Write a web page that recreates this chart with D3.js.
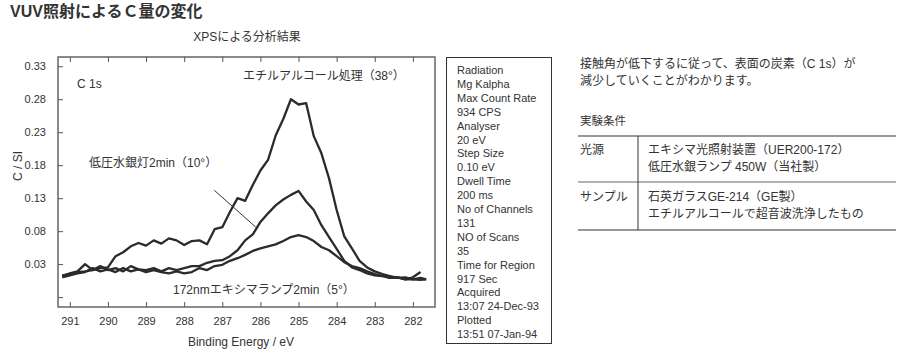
<!DOCTYPE html>
<html>
<head>
<meta charset="utf-8">
<script src="https://cdn.jsdelivr.net/npm/d3@7"></script>
<style>
  body { margin: 0; background: #fff; }
  svg { font-family: "Liberation Sans", "Noto Sans CJK JP", sans-serif; }
</style>
</head>
<body>
<div id="chart"></div>
<script>
// binding energy (eV), shared by all three spectra
var energy = [291.2, 291.0, 290.8, 290.6, 290.4, 290.2, 290.0, 289.8, 289.6, 289.4,
  289.2, 289.0, 288.8, 288.6, 288.4, 288.2, 288.0, 287.8, 287.6, 287.4,
  287.2, 287.0, 286.8, 286.6, 286.4, 286.2, 286.0, 285.8, 285.6, 285.4,
  285.2, 285.0, 284.8, 284.6, 284.4, 284.2, 284.0, 283.8, 283.6, 283.4,
  283.2, 283.0, 282.8, 282.6, 282.4, 282.2, 282.0, 281.8, 281.65];

// エチルアルコール処理 (38°)
var ethanol = [0.012, 0.016, 0.019, 0.030, 0.021, 0.024, 0.025, 0.042, 0.048, 0.057,
  0.062, 0.058, 0.066, 0.061, 0.069, 0.066, 0.059, 0.065, 0.066, 0.060,
  0.083, 0.086, 0.109, 0.130, 0.126, 0.150, 0.172, 0.188, 0.225, 0.250,
  0.280, 0.272, 0.274, 0.224, 0.198, 0.160, 0.112, 0.072, 0.054, 0.035,
  0.025, 0.019, 0.015, 0.012, 0.009, 0.010, 0.007, 0.006, 0.007];

// 低圧水銀灯2min (10°)
var mercury = [0.013, 0.015, 0.018, 0.019, 0.021, 0.027, 0.021, 0.024, 0.019, 0.027,
  0.022, 0.021, 0.024, 0.019, 0.024, 0.021, 0.024, 0.027, 0.027, 0.032,
  0.035, 0.036, 0.042, 0.051, 0.066, 0.075, 0.094, 0.107, 0.119, 0.128,
  0.135, 0.141, 0.125, 0.112, 0.089, 0.071, 0.053, 0.035, 0.025, 0.021,
  0.016, 0.013, 0.012, 0.009, 0.010, 0.007, 0.010, 0.018, null];

// 172nmエキシマランプ2min (5°)
var excimer = [0.010, 0.013, 0.016, 0.018, 0.024, 0.019, 0.022, 0.018, 0.024, 0.019,
  0.022, 0.018, 0.021, 0.018, 0.016, 0.019, 0.016, 0.018, 0.024, 0.021,
  0.027, 0.029, 0.035, 0.039, 0.044, 0.050, 0.054, 0.057, 0.060, 0.065,
  0.071, 0.074, 0.071, 0.065, 0.056, 0.051, 0.042, 0.033, 0.027, 0.024,
  0.019, 0.015, 0.012, 0.009, 0.010, 0.007, 0.007, 0.009, 0.007];

var xTicks = [291, 290, 289, 288, 287, 286, 285, 284, 283, 282];
var yTicks = [0.33, 0.28, 0.23, 0.18, 0.13, 0.08, 0.03, -0.02];

var infoLines = ["Radiation", "Mg Kalpha", "Max Count Rate", "934 CPS", "Analyser", "20 eV",
  "Step Size", "0.10 eV", "Dwell Time", "200 ms", "No of Channels", "131",
  "NO of Scans", "35", "Time for Region", "917 Sec", "Acquired", "13:07 24-Dec-93",
  "Plotted", "13:51 07-Jan-94"];

var noteLines = ["接触角が低下するに従って、表面の炭素（C 1s）が", "減少していくことがわかります。"];
var condRows = [
  {head: "光源", lines: ["エキシマ光照射装置（UER200-172）", "低圧水銀ランプ 450W（当社製）"]},
  {head: "サンプル", lines: ["石英ガラスGE-214（GE製）", "エチルアルコールで超音波洗浄したもの"]}
];

var W = 900, H = 352;
var svg = d3.select("#chart").append("svg").attr("width", W).attr("height", H);

var x = d3.scaleLinear().domain([291.31, 281.42]).range([58, 435]);
var y = d3.scaleLinear().domain([-0.035, 0.344]).range([307, 57]);

// title
svg.append("text").attr("x", 10).attr("y", 17)
  .style("font-size", "16px").style("font-weight", "bold").attr("fill", "#333")
  .text("VUV照射によるＣ量の変化");

svg.append("text").attr("x", 247).attr("y", 41).attr("text-anchor", "middle")
  .style("font-size", "12px").attr("fill", "#333").text("XPSによる分析結果");

// frame
svg.append("rect").attr("x", 58).attr("y", 57).attr("width", 377).attr("height", 250)
  .attr("fill", "none").attr("stroke", "#666").attr("stroke-width", 1.5);

// bottom axis with inward ticks
var gx = svg.append("g").attr("transform", "translate(0,307)")
  .call(d3.axisBottom(x).tickValues(xTicks).tickSizeInner(-5).tickSizeOuter(0).tickPadding(10));
gx.select(".domain").remove();
gx.selectAll("line").attr("stroke", "#555");
gx.selectAll("text").style("font-size", "11px").attr("fill", "#333").attr("font-family", null);

// top ticks
var gt = svg.append("g").attr("transform", "translate(0,57)")
  .call(d3.axisTop(x).tickValues(xTicks).tickSizeInner(-5).tickSizeOuter(0).tickFormat(""));
gt.select(".domain").remove();
gt.selectAll("line").attr("stroke", "#555");

// left axis
var gy = svg.append("g").attr("transform", "translate(58,0)")
  .call(d3.axisLeft(y).tickValues(yTicks).tickSizeInner(-5).tickSizeOuter(0).tickPadding(12)
    .tickFormat(function(d) { return d < 0 ? "" : d3.format(".2f")(d); }));
gy.select(".domain").remove();
gy.selectAll("line").attr("stroke", "#555");
gy.selectAll("text").style("font-size", "11px").attr("fill", "#333").attr("font-family", null);

svg.append("text").attr("transform", "translate(22,166) rotate(-90)").attr("text-anchor", "middle")
  .style("font-size", "12px").attr("fill", "#333").text("C / SI");
svg.append("text").attr("x", 241).attr("y", 346).attr("text-anchor", "middle")
  .style("font-size", "12px").attr("fill", "#333").text("Binding Energy / eV");

// spectra
var line = d3.line()
  .defined(function(d) { return d[1] != null; })
  .x(function(d) { return x(d[0]); })
  .y(function(d) { return y(d[1]); });

[ethanol, mercury, excimer].forEach(function(series) {
  svg.append("path")
    .datum(energy.map(function(e, i) { return [e, series[i]]; }))
    .attr("d", line)
    .attr("fill", "none").attr("stroke", "#2b2b2b").attr("stroke-width", 2.3)
    .attr("stroke-linejoin", "round");
});

// pointer line for 10° label
svg.append("line")
  .attr("x1", x(287.21)).attr("y1", y(0.142))
  .attr("x2", x(286.12)).attr("y2", y(0.086))
  .attr("stroke", "#333").attr("stroke-width", 1);

// curve labels
var lab = svg.append("g").style("font-size", "12px").attr("fill", "#333");
lab.append("text").attr("x", 77).attr("y", 88).text("C 1s");
lab.append("text").attr("x", 243).attr("y", 80).text("エチルアルコール処理（38°）");
lab.append("text").attr("x", 89).attr("y", 167).text("低圧水銀灯2min（10°）");
lab.append("text").attr("x", 173).attr("y", 294).text("172nmエキシマランプ2min（5°）");

// info box
svg.append("rect").attr("x", 446.5).attr("y", 57.5).attr("width", 105).attr("height", 286)
  .attr("fill", "none").attr("stroke", "#333").attr("stroke-width", 1);
svg.append("g").selectAll("text").data(infoLines).enter().append("text")
  .attr("x", 457).attr("y", function(d, i) { return 74 + i * 13.9; })
  .style("font-size", "11px").attr("fill", "#333").text(function(d) { return d; });

// note text
svg.append("g").selectAll("text").data(noteLines).enter().append("text")
  .attr("x", 580).attr("y", function(d, i) { return 68 + i * 17; })
  .style("font-size", "12px").attr("fill", "#333").text(function(d) { return d; });

svg.append("text").attr("x", 580).attr("y", 125).style("font-size", "11.5px").attr("fill", "#333")
  .text("実験条件");

// conditions table
svg.append("line").attr("x1", 578).attr("x2", 896).attr("y1", 136).attr("y2", 136)
  .attr("stroke", "#999").attr("stroke-width", 2);
svg.append("line").attr("x1", 578).attr("x2", 896).attr("y1", 182).attr("y2", 182)
  .attr("stroke", "#999").attr("stroke-width", 1.5);
svg.append("line").attr("x1", 578).attr("x2", 896).attr("y1", 230).attr("y2", 230)
  .attr("stroke", "#333").attr("stroke-width", 1.2);
svg.append("line").attr("x1", 638).attr("x2", 638).attr("y1", 136).attr("y2", 230)
  .attr("stroke", "#333").attr("stroke-width", 1);

condRows.forEach(function(r, ri) {
  var y0 = 154 + ri * 47;
  svg.append("text").attr("x", 580).attr("y", y0).style("font-size", "12px").attr("fill", "#333").text(r.head);
  r.lines.forEach(function(t, li) {
    svg.append("text").attr("x", 648).attr("y", y0 + li * 17).style("font-size", "12px")
      .attr("fill", "#333").text(t);
  });
});
</script>
</body>
</html>
